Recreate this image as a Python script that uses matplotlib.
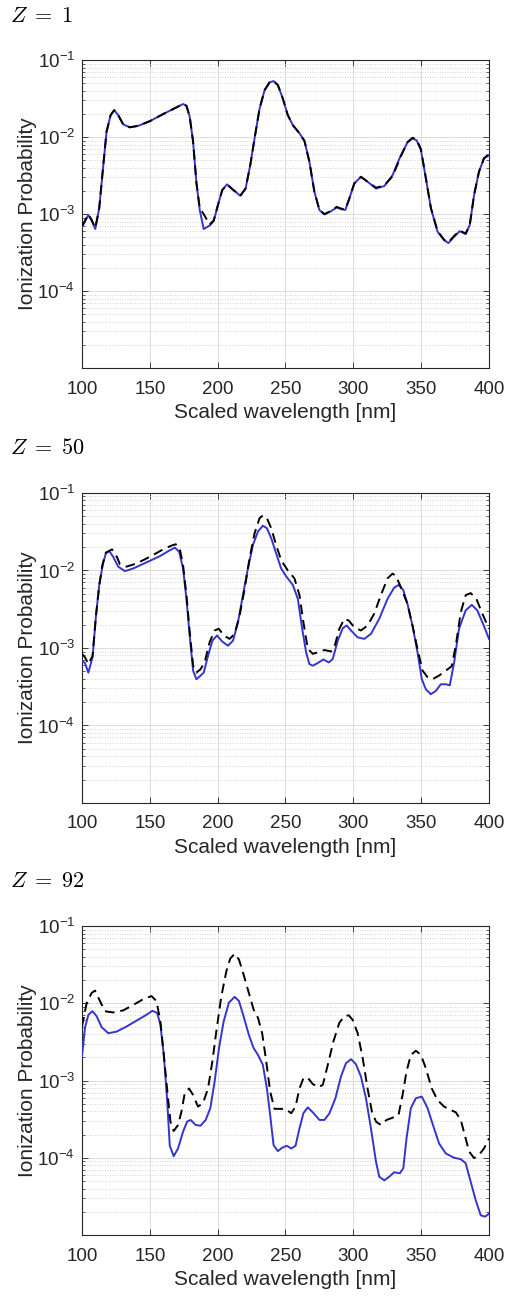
import numpy as np
import matplotlib
matplotlib.use('Agg')
import matplotlib.pyplot as plt
from matplotlib.ticker import LogLocator, NullFormatter

plt.rcParams['font.family'] = ['Liberation Sans', 'DejaVu Sans']
plt.rcParams['mathtext.fontset'] = 'custom'
plt.rcParams['mathtext.rm'] = 'Liberation Sans'

# Z = 1 (both curves lie on top of each other)
wl_z1 = [100, 104.7, 107.1, 109.8, 112.7, 115.7, 118.1, 121.1, 123.8, 126.7, 130.4, 135.3,
         141.4, 150, 159.8, 169.6, 174.5, 177, 179.4, 181.9, 184.3, 186.8, 189.7, 194.1,
         197.1, 200.2, 203.4, 206.9, 210.8, 216.7, 220.6, 224, 227.2, 230.9, 234.6, 238.2,
         241.2, 244.4, 248, 251.7, 255.4, 260.3, 264, 267.6, 271.3, 275, 278.7, 283.6,
         287.7, 290.9, 294.1, 297.1, 300.7, 305.6, 310.5, 316.7, 322.8, 328.9, 335, 339.9,
         343.6, 346.6, 349.8, 353.5, 357.2, 362.1, 367, 370.1, 374.3, 378.4, 382.8, 385.8,
         389, 392.6, 396.3, 400]
z1_blue = [6.8e-4, 9.7e-4, 8.3e-4, 6.4e-4, 1.19e-3, 4.3e-3, 1.17e-2, 1.93e-2, 2.24e-2, 1.93e-2,
           1.46e-2, 1.34e-2, 1.40e-2, 1.61e-2, 1.99e-2, 2.43e-2, 2.69e-2, 2.55e-2, 1.84e-2,
           8.7e-3, 2.6e-3, 1.13e-3, 6.4e-4, 7.1e-4, 8.1e-4, 1.31e-3, 2.05e-3, 2.43e-3, 2.11e-3,
           1.73e-3, 2.15e-3, 4.3e-3, 9.6e-3, 2.35e-2, 4.07e-2, 5.13e-2, 5.34e-2, 4.73e-2,
           3.18e-2, 1.93e-2, 1.43e-2, 1.12e-2, 8.9e-3, 4.8e-3, 1.95e-3, 1.13e-3, 9.9e-4,
           1.09e-3, 1.22e-3, 1.16e-3, 1.13e-3, 1.6e-3, 2.5e-3, 3.05e-3, 2.63e-3, 2.15e-3,
           2.31e-3, 3.2e-3, 5.8e-3, 8.5e-3, 9.6e-3, 9.1e-3, 6.8e-3, 2.9e-3, 1.19e-3, 5.9e-4,
           4.6e-4, 4.2e-4, 5.1e-4, 6.0e-4, 5.5e-4, 7.2e-4, 1.77e-3, 3.55e-3, 5.3e-3, 5.8e-3]
z1_black = [7.0e-4, 9.9e-4, 8.4e-4, 6.6e-4, 1.19e-3, 4.3e-3, 1.17e-2, 1.93e-2, 2.24e-2, 1.93e-2,
            1.46e-2, 1.34e-2, 1.40e-2, 1.61e-2, 1.99e-2, 2.43e-2, 2.69e-2, 2.55e-2, 1.84e-2,
            8.7e-3, 2.6e-3, 1.2e-3, 1.0e-3, 7.3e-4, 8.3e-4, 1.31e-3, 2.05e-3, 2.43e-3, 2.11e-3,
            1.73e-3, 2.15e-3, 4.3e-3, 9.6e-3, 2.35e-2, 4.07e-2, 5.13e-2, 5.34e-2, 4.73e-2,
            3.18e-2, 1.93e-2, 1.43e-2, 1.12e-2, 8.9e-3, 4.8e-3, 1.95e-3, 1.13e-3, 1.0e-3,
            1.1e-3, 1.24e-3, 1.18e-3, 1.15e-3, 1.6e-3, 2.5e-3, 3.05e-3, 2.63e-3, 2.2e-3,
            2.35e-3, 3.1e-3, 5.6e-3, 8.6e-3, 9.8e-3, 9.3e-3, 7.0e-3, 2.9e-3, 1.19e-3, 6.0e-4,
            4.6e-4, 4.3e-4, 5.2e-4, 6.1e-4, 5.6e-4, 7.2e-4, 1.77e-3, 3.55e-3, 5.3e-3, 6.0e-3]

# Z = 50
wl_z50_blue = [100, 102.2, 104.7, 107.8, 110.3, 112.7, 115.2, 117.6, 120.1, 123, 126.7, 131.6,
               137.7, 147.5, 157.4, 164.7, 168.4, 171.6, 174.5, 177, 179.4, 181.9, 184.3, 186.8,
               189.7, 192.9, 196.1, 199.5, 203.4, 207.6, 211.3, 215, 218.6, 222.3, 226, 229.7,
               233.3, 236.3, 239.5, 243.1, 246.8, 250.5, 255.4, 259.1, 262.3, 265.2, 267.6,
               270.1, 273.8, 277.9, 281.9, 284.8, 288.5, 292.2, 295.1, 298.3, 303.2, 308.1, 313,
               319.1, 325.2, 330.1, 333.3, 336.8, 339.9, 343.6, 347.3, 350.5, 353.4, 357.1,
               360.8, 364.5, 368.1, 371.1, 374.3, 377.9, 382.8, 387.3, 391.4, 395.6, 400]
z50_blue = [6.8e-4, 6.4e-4, 4.8e-4, 7.6e-4, 2.6e-3, 6.4e-3, 1.17e-2, 1.66e-2, 1.78e-2, 1.50e-2,
            1.12e-2, 9.8e-3, 1.06e-2, 1.27e-2, 1.53e-2, 1.82e-2, 1.97e-2, 1.75e-2, 1.06e-2,
            4.3e-3, 1.45e-3, 5.1e-4, 3.95e-4, 4.3e-4, 4.8e-4, 7.9e-4, 1.24e-3, 1.45e-3, 1.21e-3,
            1.07e-3, 1.24e-3, 2.15e-3, 4.8e-3, 1.06e-2, 2.13e-2, 3.18e-2, 3.77e-2, 3.51e-2,
            2.6e-2, 1.66e-2, 1.06e-2, 8.4e-3, 6.5e-3, 4.3e-3, 1.77e-3, 8.8e-4, 6.2e-4, 5.9e-4,
            6.4e-4, 7.1e-4, 6.5e-4, 7.2e-4, 1.24e-3, 1.8e-3, 1.95e-3, 1.68e-3, 1.37e-3, 1.31e-3,
            1.52e-3, 2.38e-3, 4.3e-3, 6.0e-3, 6.5e-3, 5.6e-3, 3.7e-3, 1.95e-3, 8.8e-4, 3.95e-4,
            2.94e-4, 2.53e-4, 2.79e-4, 3.4e-4, 3.4e-4, 3.3e-4, 6.5e-4, 1.77e-3, 3.05e-3, 3.6e-3,
            3.05e-3, 2.05e-3, 1.31e-3]
wl_z50_black = [100, 102.2, 104.7, 107.8, 110.3, 112.7, 115.2, 117.6, 122.1, 125.7, 128, 132.8,
                140.2, 150, 159.8, 165.9, 169.1, 172, 174.5, 177, 179.4, 181.9, 184.3, 187.3,
                190.4, 194.1, 197.8, 200.9, 204.4, 208.8, 212.5, 216.2, 219.9, 223.5, 227.2,
                230.9, 233.3, 236.3, 239.5, 243.1, 246.8, 251.7, 256.6, 260.3, 263.2, 266.4,
                270.1, 273.8, 278.7, 283.6, 286, 289.7, 293.4, 296.6, 300.7, 305.6, 310.5, 315.4,
                320.3, 325.2, 328.9, 331.4, 335, 339.9, 343.6, 347.3, 351, 354.7, 358.3, 363.2,
                368.1, 372.5, 375.5, 379.2, 382.8, 386.5, 390.7, 395.1, 400]
z50_black = [8.4e-4, 7.6e-4, 6.2e-4, 7.9e-4, 2.6e-3, 6.4e-3, 1.2e-2, 1.7e-2, 1.87e-2, 1.5e-2,
             1.2e-2, 1.12e-2, 1.23e-2, 1.5e-2, 1.87e-2, 2.09e-2, 2.18e-2, 1.93e-2, 1.17e-2,
             4.8e-3, 1.6e-3, 5.9e-4, 4.8e-4, 5.3e-4, 6.5e-4, 1.19e-3, 1.68e-3, 1.77e-3, 1.45e-3,
             1.31e-3, 1.52e-3, 2.63e-3, 5.8e-3, 1.43e-2, 3.02e-2, 4.73e-2, 5.13e-2, 4.73e-2,
             3.5e-2, 2.13e-2, 1.36e-2, 1.0e-2, 7.9e-3, 4.8e-3, 2.15e-3, 9.8e-4, 8.4e-4, 8.8e-4,
             9.4e-4, 9.0e-4, 1.02e-3, 1.77e-3, 2.38e-3, 2.26e-3, 1.85e-3, 1.68e-3, 1.95e-3,
             2.77e-3, 4.8e-3, 7.9e-3, 9.1e-3, 8.5e-3, 6.1e-3, 3.7e-3, 1.95e-3, 9.7e-4, 5.1e-4,
             4.2e-4, 3.95e-4, 4.4e-4, 5.1e-4, 5.8e-4, 1.07e-3, 2.9e-3, 4.8e-3, 5.1e-3, 4.3e-3,
             2.77e-3, 1.77e-3]

# Z = 92
wl_z92_blue = [100, 102.2, 104.7, 107.8, 110.8, 114.5, 119.4, 125.5, 132.8, 140.2, 147.5, 151.9,
               155.4, 157.8, 160.3, 162.7, 164.7, 167.6, 170.8, 174.5, 177.5, 180.1, 183.8,
               187.3, 191.2, 194.6, 197.8, 201, 204.4, 208.3, 212.5, 215.7, 219.1, 223, 226.5,
               229.7, 233.3, 236.3, 238.7, 241.2, 244.4, 247.5, 251, 254.2, 257.4, 260.3, 263.2,
               266.4, 270.1, 275, 278.7, 282.4, 286.8, 290.9, 294.6, 298.3, 301.9, 305.6, 309.3,
               313, 316.7, 319.1, 322.8, 326.5, 330.1, 334.3, 336.8, 339.2, 342.4, 346.1, 350.5,
               354.7, 358.3, 363.2, 368.1, 374.3, 379.2, 382.8, 386.5, 390.2, 393.9, 397.1, 400]
z92_blue = [2.05e-3, 4.8e-3, 7.1e-3, 7.9e-3, 6.8e-3, 4.9e-3, 4.1e-3, 4.3e-3, 5.0e-3, 5.96e-3,
            7.1e-3, 8.0e-3, 7.5e-3, 5.3e-3, 2.15e-3, 5.9e-4, 1.43e-4, 1.05e-4, 1.32e-4, 2.18e-4,
            2.94e-4, 3.09e-4, 2.66e-4, 2.6e-4, 3.09e-4, 4.4e-4, 9.8e-4, 2.63e-3, 5.8e-3,
            1.02e-2, 1.21e-2, 1.07e-2, 6.8e-3, 3.9e-3, 2.63e-3, 2.15e-3, 1.6e-3, 7.9e-4, 3.58e-4,
            1.46e-4, 1.22e-4, 1.35e-4, 1.43e-4, 1.32e-4, 1.43e-4, 2.4e-4, 3.77e-4, 4.5e-4,
            3.88e-4, 3.09e-4, 3.09e-4, 3.77e-4, 5.9e-4, 1.13e-3, 1.68e-3, 1.89e-3, 1.63e-3,
            1.13e-3, 5.9e-4, 2.4e-4, 8.9e-5, 5.7e-5, 5.1e-5, 5.7e-5, 6.5e-5, 6.3e-5, 7.3e-5,
            1.78e-4, 4.4e-4, 5.9e-4, 6.2e-4, 4.4e-4, 2.79e-4, 1.53e-4, 1.14e-4, 1.0e-4, 9.6e-5,
            8.5e-5, 4.9e-5, 2.82e-5, 1.8e-5, 1.73e-5, 1.89e-5]
wl_z92_black = [100, 103.4, 107.1, 109.6, 112.7, 116.9, 123, 130.4, 137.7, 145.1, 151.2, 154.9,
                157.8, 160.3, 162.7, 165.2, 167.6, 170.8, 173.3, 175.7, 178.9, 181.9, 185.5,
                189.2, 192.9, 196.1, 199, 202.7, 206.4, 209.3, 212.5, 215.7, 219.1, 223, 226.5,
                229.7, 232.8, 235.8, 238.7, 241.9, 245.6, 250, 254.2, 257.4, 260.3, 263.2, 266.4,
                270.1, 274.5, 277.5, 281.2, 285.3, 289.7, 293.4, 296.6, 299.5, 303.2, 306.9,
                310.5, 313.7, 316.7, 320.3, 324.5, 328.9, 333.3, 336.3, 339.2, 342.4, 346.1,
                349.8, 353.4, 357.8, 362, 366.9, 371.8, 375.5, 379.2, 382.4, 385.3, 389, 392.6,
                396.3, 400]
z92_black = [5.0e-3, 1.0e-2, 1.36e-2, 1.46e-2, 1.12e-2, 7.9e-3, 7.6e-3, 8.1e-3, 9.5e-3, 1.13e-2,
             1.24e-2, 1.07e-2, 5.8e-3, 2.15e-3, 7.9e-4, 2.94e-4, 2.22e-4, 2.66e-4, 3.95e-4,
             6.8e-4, 7.9e-4, 6.5e-4, 4.6e-4, 5.1e-4, 7.9e-4, 1.77e-3, 4.3e-3, 1.23e-2, 2.6e-2,
             3.8e-2, 4.37e-2, 3.69e-2, 2.36e-2, 1.36e-2, 8.3e-3, 6.5e-3, 4.1e-3, 1.77e-3, 7.2e-4,
             4.3e-4, 4.3e-4, 4.3e-4, 3.77e-4, 4.6e-4, 7.9e-4, 1.07e-3, 1.09e-3, 9.0e-4, 8.2e-4,
             8.8e-4, 1.6e-3, 3.2e-3, 5.6e-3, 6.8e-3, 7.0e-3, 6.1e-3, 4.1e-3, 1.95e-3, 7.9e-4,
             3.95e-4, 2.94e-4, 2.66e-4, 3.09e-4, 3.3e-4, 3.58e-4, 6.5e-4, 1.31e-3, 2.15e-3,
             2.43e-3, 2.15e-3, 1.45e-3, 7.9e-4, 5.6e-4, 4.6e-4, 4.16e-4, 3.88e-4, 3.09e-4,
             1.89e-4, 1.21e-4, 9.9e-5, 1.09e-4, 1.32e-4, 1.78e-4]

panels = [
    (r'$Z\;=\;1$', wl_z1, z1_black, wl_z1, z1_blue),
    (r'$Z\;=\;50$', wl_z50_black, z50_black, wl_z50_blue, z50_blue),
    (r'$Z\;=\;92$', wl_z92_black, z92_black, wl_z92_blue, z92_blue),
]
ax_rects = [[0.1617, 0.7171, 0.8028, 0.2367],
            [0.1617, 0.3828, 0.8028, 0.2383],
            [0.1617, 0.0507, 0.8028, 0.2375]]
title_y = [0.9875, 0.6553, 0.3228]

txt = '#262626'
fig = plt.figure(figsize=(5.07, 13.01), dpi=100)

for (title, xb, yb, xs, ys), rect, ty in zip(panels, ax_rects, title_y):
    ax = fig.add_axes(rect)
    ax.plot(xs, ys, color='#3434cf', lw=1.4, zorder=3)
    ax.plot(xb, yb, color='black', lw=1.4, ls=(0, (5, 3)), zorder=4)
    ax.set_yscale('log')
    ax.set_xlim(100, 400)
    ax.set_ylim(1e-5, 1e-1)
    ax.set_xticks([100, 150, 200, 250, 300, 350, 400])
    ax.set_yticks([1e-4, 1e-3, 1e-2, 1e-1])
    ax.yaxis.set_minor_locator(LogLocator(base=10, subs=np.arange(2, 10)))
    ax.yaxis.set_minor_formatter(NullFormatter())
    ax.grid(True, which='major', color='#dcdcdc', lw=0.7, ls='-')
    ax.grid(True, which='minor', axis='y', color='#c8c8c8', lw=0.6, ls=(0, (1, 2)))
    ax.set_axisbelow(True)
    ax.tick_params(which='both', direction='in', top=True, right=True, colors=txt,
                   labelsize=13.5)
    ax.tick_params(axis='x', which='major', pad=9)
    ax.tick_params(axis='y', which='major', pad=5)
    ax.tick_params(which='major', length=4, width=0.6)
    ax.tick_params(which='minor', length=2, width=0.5)
    for s in ax.spines.values():
        s.set_color(txt)
        s.set_linewidth(0.8)
    ax.set_xlabel('Scaled wavelength [nm]', fontsize=15, color=txt, labelpad=4)
    ax.set_ylabel('Ionization Probability', fontsize=15, color=txt, labelpad=0)
    fig.text(0.02, ty, title, fontsize=16, va='center', ha='left',
             math_fontfamily='cm', color='black')

fig.savefig('out.png', dpi=100)
